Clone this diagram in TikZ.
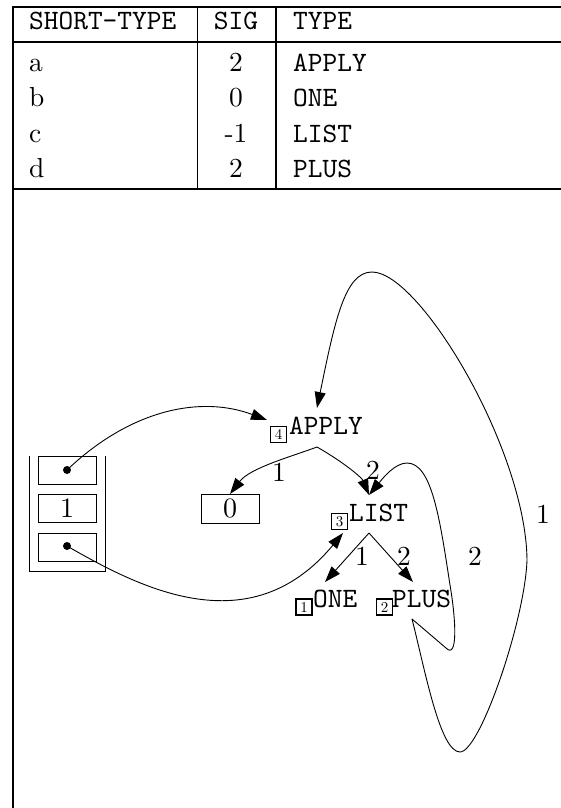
\documentclass[tikz,border=0pt]{standalone}
\usepackage{fontspec}
\newfontfamily\cmtenrm{lmroman10-regular}[Extension=.otf]
\newfontfamily\cmtentt{lmmono10-regular}[Extension=.otf]
\usetikzlibrary{arrows.meta}
\begin{document}
\tikzset{
  tt/.style={font=\cmtentt\fontsize{28}{30}\selectfont, inner sep=0pt},
  rm/.style={font=\cmtenrm\fontsize{27.5}{30}\selectfont, inner sep=0pt},
  tag/.style={draw, line width=1.6pt, minimum size=16pt, inner sep=0pt, font=\cmtenrm\fontsize{15}{15}\selectfont},
  cell/.style={draw, line width=0.8pt, minimum width=58pt, minimum height=28pt, inner sep=0pt, font=\cmtenrm\fontsize{28}{30}\selectfont},
  dot/.style={circle, fill, inner sep=0pt, minimum size=8pt},
  conn/.style={line width=0.9pt, -{Triangle[length=16pt,width=11pt]}},
  plainconn/.style={line width=0.8pt},
  thickrule/.style={line width=2pt},
  thinrule/.style={line width=1.2pt},
}
\begin{tikzpicture}[x=1pt,y=-1pt]
\useasboundingbox (0,0) rectangle (561,808);
% table rules
\draw[thickrule] (561,7.5) -- (13,7.5) -- (13,808);
\draw[thickrule] (13,42) -- (561,42);
\draw[thickrule] (13,189) -- (561,189);
\draw[thinrule] (197.5,7.5) -- (197.5,189);
\draw[thickrule] (275.5,7.5) -- (275.5,189);
% header
\node[tt, anchor=base west] (hshort) at (29,30) {SHORT-TYPE};
\node[tt, anchor=base] (hsig) at (236,30) {SIG};
\node[tt, anchor=base west] (htype) at (293,30) {TYPE};
% rows
\node[rm, anchor=base west] (ra) at (29,71) {a};
\node[rm, anchor=base west] (rb) at (29,106.5) {b};
\node[rm, anchor=base west] (rc) at (29,142) {c};
\node[rm, anchor=base west] (rd) at (29,177.5) {d};
\node[rm, anchor=base] (sa) at (236,71) {2};
\node[rm, anchor=base] (sb) at (236,106.5) {0};
\node[rm, anchor=base] (sc) at (236,142) {-1};
\node[rm, anchor=base] (sd) at (236,177.5) {2};
\node[tt, anchor=base west] (ta) at (293,71) {APPLY};
\node[tt, anchor=base west] (tb) at (293,106.5) {ONE};
\node[tt, anchor=base west] (tc) at (293,142) {LIST};
\node[tt, anchor=base west] (td) at (293,177.5) {PLUS};
% stack
\draw[plainconn] (29,456) -- (29,571) -- (105.5,571) -- (105.5,456);
\node[cell] (s1) at (67,470) {};
\node[cell] (s2) at (67,508.5) {1};
\node[cell] (s3) at (67,547) {};
\node[dot] (d1) at (67,470) {};
\node[dot] (d3) at (67,546) {};
\node[cell, minimum height=29pt] (zero) at (230,508.5) {0};
% graph nodes
\node[tt, anchor=base west] (apply) at (289,434) {APPLY};
\node[tag] (t4) at (278.5,434.5) {4};
\node[tt, anchor=base west] (list) at (349,521) {LIST};
\node[tag] (t3) at (339.5,521.5) {3};
\node[tt, anchor=base west] (one) at (313,607) {ONE};
\node[tag] (t1) at (304,607) {1};
\node[tt, anchor=base west] (plus) at (392,607) {PLUS};
\node[tag] (t2) at (384.5,607) {2};
% ports
\coordinate (applyout) at (317,447);
\coordinate (applyin) at (267,420);
\coordinate (applytop) at (317,408);
\coordinate (zeroin) at (230,494);
\coordinate (listin) at (369,495);
\coordinate (listout) at (369,533);
\coordinate (listleft) at (343,533);
\coordinate (onein) at (325,582);
\coordinate (plusin) at (413,582);
\coordinate (plusout) at (412,619);
% connectors
\draw[conn] (d1.center) .. controls (130,410) and (200,395) .. (applyin);
\draw[conn] (d3.center) .. controls (140,588) and (250,645) .. (listleft);
\draw[conn] (applyout) .. controls (290,457) and (250,468) .. (zeroin);
\draw[conn] (applyout) .. controls (345,463) and (362,478) .. (listin);
\draw[conn] (listout) -- (onein);
\draw[conn] (listout) -- (plusin);
\draw[conn] (plusout) -- (446,648) .. controls (458,660) and (456,620) .. (450,585)
   .. controls (440,520) and (432,463) .. (407,463) .. controls (395,463) and (383,478) .. (listin);
\draw[conn] (plusout) .. controls (425,670) and (440,752) .. (460,752)
   .. controls (480,752) and (525,620) .. (527,560)
   .. controls (526,450) and (420,272) .. (372,272)
   .. controls (345,272) and (335,320) .. (applytop);
% edge labels
\node[rm] (l1) at (279,472) {1};
\node[rm] (l2) at (373,470) {2};
\node[rm] (l3) at (362,556) {1};
\node[rm] (l4) at (404,556) {2};
\node[rm] (l5) at (475,556) {2};
\node[rm] (l6) at (543,514) {1};
\end{tikzpicture}
\end{document}
